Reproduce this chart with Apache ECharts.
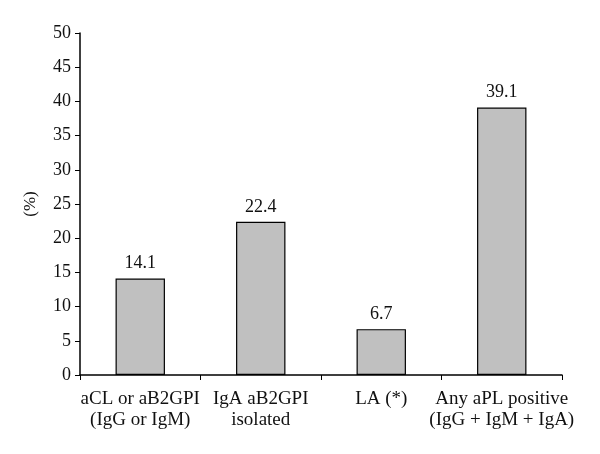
<!DOCTYPE html>
<html><head><meta charset="utf-8">
<script src="https://cdn.jsdelivr.net/npm/echarts@6/dist/echarts.min.js"></script>
<style>html,body{margin:0;padding:0;background:#fff}#c{width:600px;height:454px}</style>
</head><body><div id="c"></div>
<script>
const categories = ["aCL or aB2GPI\n(IgG or IgM)", "IgA aB2GPI\nisolated", "LA (*)", "Any aPL positive\n(IgG + IgM + IgA)"];
const values = [14.1, 22.4, 6.7, 39.1];
const yTicks = [0, 5, 10, 15, 20, 25, 30, 35, 40, 45, 50];
const yName = "(%)";
const font = "Liberation Serif";
const chart = echarts.init(document.getElementById('c'), null, {renderer: 'canvas'});
chart.setOption({
  animation: false,
  backgroundColor: '#fff',
  grid: {left: 80, right: 38, top: 33, bottom: 79},
  xAxis: {
    type: 'category', data: categories,
    axisLine: {lineStyle: {color: '#000', width: 1.5}},
    axisTick: {show: true, length: 5, alignWithLabel: false, lineStyle: {color: '#000', width: 1}},
    axisLabel: {color: '#111', fontFamily: font, fontSize: 19, lineHeight: 21, margin: 14, interval: 0}
  },
  yAxis: {
    type: 'value', min: yTicks[0], max: yTicks[yTicks.length - 1], interval: 5,
    name: yName, nameLocation: 'middle', nameGap: 41, nameRotate: 90,
    nameTextStyle: {color: '#111', fontFamily: font, fontSize: 17},
    axisLine: {show: true, lineStyle: {color: '#000', width: 1.5}},
    axisTick: {show: true, length: 5, lineStyle: {color: '#000', width: 1}},
    splitLine: {show: false},
    axisLabel: {color: '#111', fontFamily: font, fontSize: 18, margin: 9}
  },
  series: [{
    type: 'bar', data: values, barWidth: '41%',
    itemStyle: {color: '#c0c0c0', borderColor: '#000', borderWidth: 1.2},
    label: {show: true, position: 'top', distance: 6, color: '#111', fontFamily: font, fontSize: 18,
      formatter: p => p.value.toFixed(1)}
  }]
});
</script></body></html>
